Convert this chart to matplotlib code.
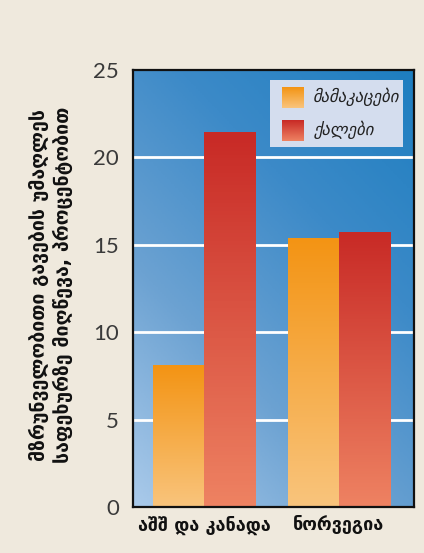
import numpy as np
import matplotlib
matplotlib.use("Agg")
import matplotlib.pyplot as plt
from matplotlib.colors import LinearSegmentedColormap
from matplotlib.patches import Rectangle

# data
regions = ["აშშ და კანადა", "ნორვეგია"]
series_names = ["მამაკაცები", "ქალები"]
men = [8.1, 15.4]
women = [21.45, 15.75]
y_ticks = [0, 5, 10, 15, 20, 25]
y_label = "მზრუნველობითი გავების უმაღლეს\nსაფეხურზე მიღწევა, პროცენტობით"

plt.rcParams['font.family'] = ['DejaVu Sans']

bg = "#EFE9DD"
men_cmap = LinearSegmentedColormap.from_list("men", ["#F9C47C", "#F39414"])
women_cmap = LinearSegmentedColormap.from_list("women", ["#EE8262", "#C82A26"])

fig = plt.figure(figsize=(4.24, 5.53), dpi=100, facecolor=bg)
ax = fig.add_axes([0.3137, 0.0832, 0.6627, 0.7902])

# diagonal blue gradient background
n = 200
xx, yy = np.meshgrid(np.linspace(0, 1, n), np.linspace(0, 1, n))
t = 0.6 * yy + 0.4 * xx
bg_cmap = LinearSegmentedColormap.from_list("bgblue", ["#AACAEA", "#6CA2D2", "#3C8AC8", "#1E7EC0"])
ax.imshow(t, cmap=bg_cmap, origin="lower", extent=[0, 1, 0, 1],
          transform=ax.transAxes, aspect="auto", zorder=0)

for y in y_ticks[1:-1]:
    ax.axhline(y, color="white", lw=2, zorder=1)

width = 0.38
grad = np.linspace(0, 1, 100).reshape(-1, 1)
x = np.arange(len(regions))
for vals, cmap, off in [(men, men_cmap, -width / 2), (women, women_cmap, width / 2)]:
    bars = ax.bar(x + off, vals, width=width, color="none", zorder=2)
    for b in bars:
        x0, y0, w, h = b.get_x(), b.get_y(), b.get_width(), b.get_height()
        im = ax.imshow(grad, cmap=cmap, origin="lower", aspect="auto",
                       extent=[x0, x0 + w, y0, y0 + h], zorder=2)
        im.set_clip_path(b)

ax.set_xlim(-0.526, 1.556)
ax.set_ylim(0, 25)

# legend drawn by hand
ax.add_patch(Rectangle((0.488, 0.823), 0.474, 0.155, transform=ax.transAxes,
                       facecolor="#D4DDEE", edgecolor="none", zorder=3))
for i, (name, cmap) in enumerate(zip(series_names, [men_cmap, women_cmap])):
    yb = 0.912 - i * 0.074
    ax.imshow(grad, cmap=cmap, origin="lower", aspect="auto",
              extent=[0.530, 0.605, yb, yb + 0.048], transform=ax.transAxes, zorder=4)
    ax.text(0.64, yb + 0.026, name, transform=ax.transAxes, fontsize=12,
            style="italic", color="#222222", va="center", ha="left", zorder=5)

ax.set_yticks(y_ticks)
ax.set_yticklabels([str(v) for v in y_ticks], fontsize=16, color="#3a3a3a",
                   family="Lato")
ax.set_xticks(x)
ax.set_xticklabels(regions, fontsize=13, fontweight="bold", color="#111111")
ax.tick_params(axis="both", length=0)
ax.tick_params(axis="y", pad=10)
ax.tick_params(axis="x", pad=6)

for s in ax.spines.values():
    s.set_color("#111111")
    s.set_linewidth(1.6)
    s.set_zorder(6)

fig.text(0.12, 0.485, y_label, rotation=90, fontsize=14, fontweight="bold",
         ha="center", va="center", color="#111111", linespacing=1.25)

fig.savefig("out.png", dpi=100, facecolor=bg)
